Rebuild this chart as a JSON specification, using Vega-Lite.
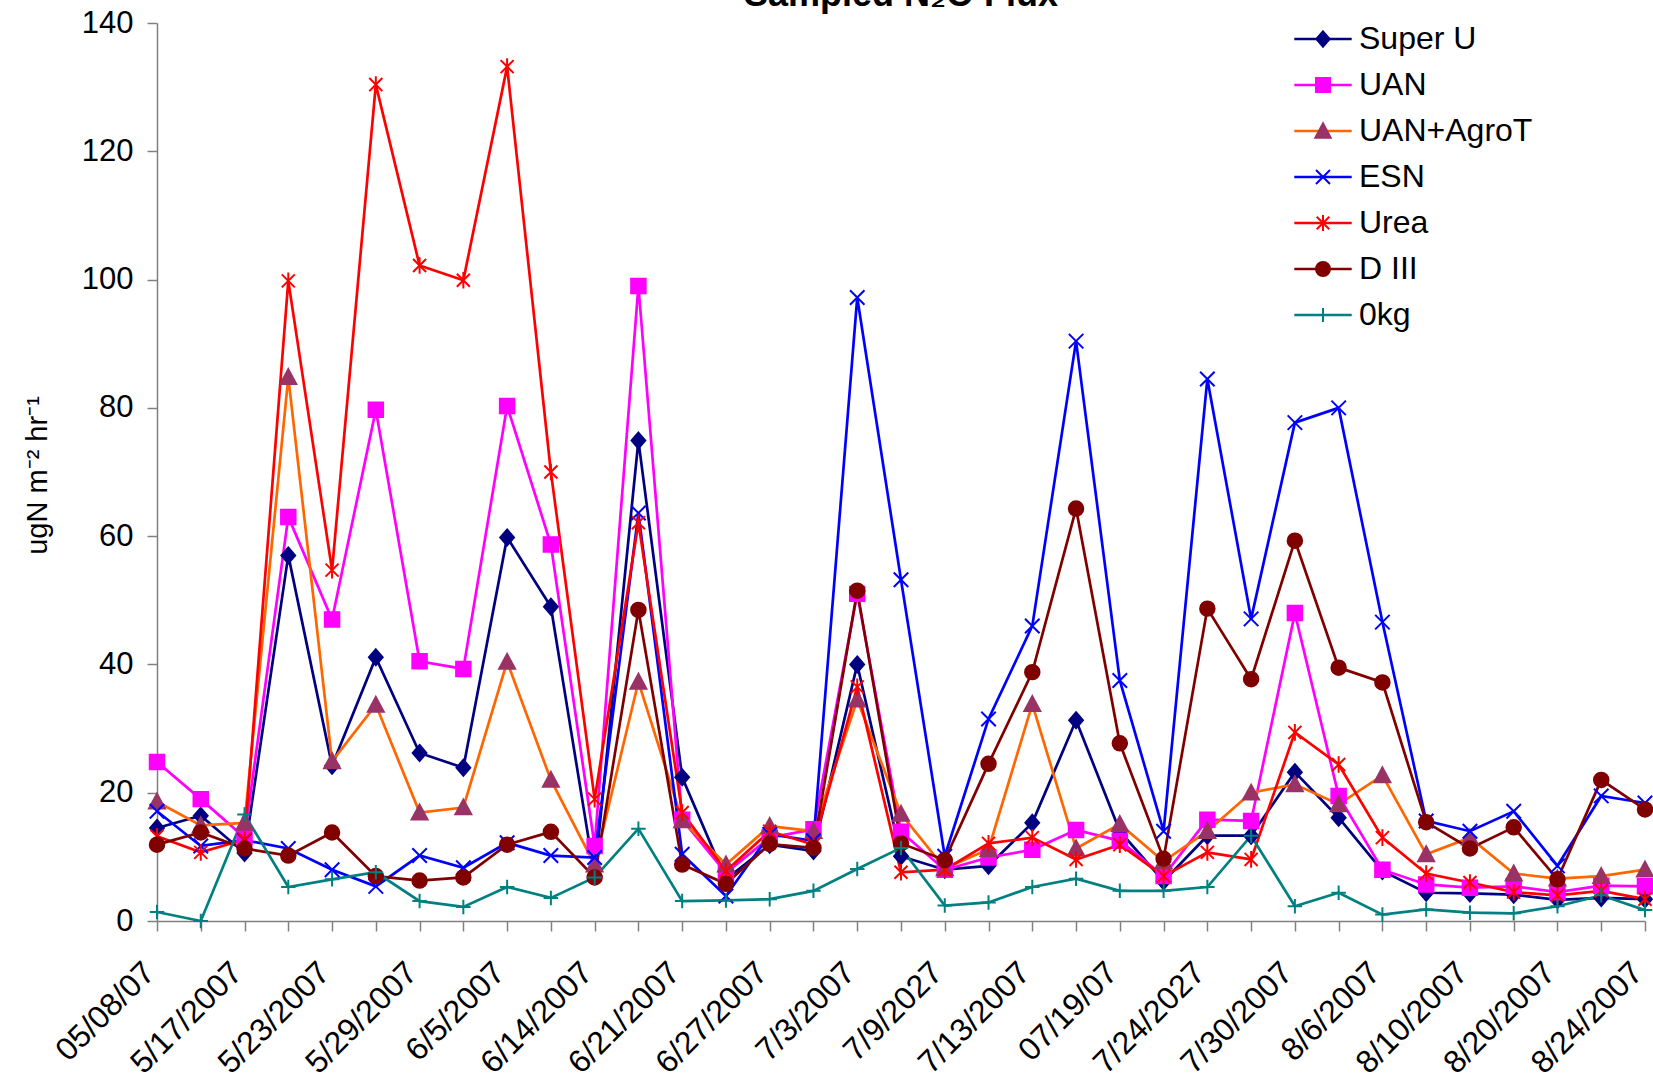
{
  "$schema": "https://vega.github.io/schema/vega-lite/v6.json",
  "width": 1488,
  "height": 898,
  "autosize": {"type": "none"},
  "padding": {"left": 157, "top": 23, "right": 8, "bottom": 160},
  "background": "white",
  "config": {"view": {"stroke": null}, "font": "Liberation Sans"},
  "title": {"text": "Sampled N₂O Flux", "fontSize": 36, "fontWeight": "bold", "font": "Liberation Sans", "color": "black", "anchor": "middle", "frame": "group", "baseline": "alphabetic", "offset": 0, "dy": 35},
  "data": {"values": [
    {"date": "05/08/07", "Super U": 14.5, "UAN": 24.8, "UAN+AgroT": 18.6, "ESN": 17.1, "Urea": 13.2, "D III": 11.9, "0kg": 1.4},
    {"date": "5/14/2007", "Super U": 16.4, "UAN": 19.0, "UAN+AgroT": 14.9, "ESN": 11.7, "Urea": 10.7, "D III": 13.8, "0kg": 0.0},
    {"date": "5/17/2007", "Super U": 10.6, "UAN": 13.0, "UAN+AgroT": 15.3, "ESN": 12.6, "Urea": 12.7, "D III": 11.3, "0kg": 16.6},
    {"date": "5/21/2007", "Super U": 57.0, "UAN": 63.0, "UAN+AgroT": 84.8, "ESN": 11.3, "Urea": 99.8, "D III": 10.2, "0kg": 5.3},
    {"date": "5/23/2007", "Super U": 24.2, "UAN": 47.0, "UAN+AgroT": 24.9, "ESN": 8.0, "Urea": 54.7, "D III": 13.8, "0kg": 6.5},
    {"date": "5/25/2007", "Super U": 41.1, "UAN": 79.7, "UAN+AgroT": 33.7, "ESN": 5.4, "Urea": 130.4, "D III": 7.0, "0kg": 7.6},
    {"date": "5/29/2007", "Super U": 26.2, "UAN": 40.5, "UAN+AgroT": 16.9, "ESN": 10.2, "Urea": 102.2, "D III": 6.3, "0kg": 3.1},
    {"date": "6/1/2007", "Super U": 23.9, "UAN": 39.3, "UAN+AgroT": 17.7, "ESN": 8.3, "Urea": 99.9, "D III": 6.8, "0kg": 2.2},
    {"date": "6/5/2007", "Super U": 59.8, "UAN": 80.3, "UAN+AgroT": 40.4, "ESN": 12.2, "Urea": 133.2, "D III": 11.9, "0kg": 5.3},
    {"date": "6/8/2007", "Super U": 49.0, "UAN": 58.7, "UAN+AgroT": 22.0, "ESN": 10.2, "Urea": 70.0, "D III": 13.9, "0kg": 3.6},
    {"date": "6/14/2007", "Super U": 7.0, "UAN": 11.7, "UAN+AgroT": 8.8, "ESN": 9.9, "Urea": 19.0, "D III": 6.8, "0kg": 6.8},
    {"date": "6/19/2007", "Super U": 74.9, "UAN": 99.0, "UAN+AgroT": 37.3, "ESN": 63.6, "Urea": 62.1, "D III": 48.5, "0kg": 14.4},
    {"date": "6/21/2007", "Super U": 22.4, "UAN": 15.8, "UAN+AgroT": 15.7, "ESN": 10.4, "Urea": 16.9, "D III": 8.8, "0kg": 3.1},
    {"date": "6/25/2007", "Super U": 6.5, "UAN": 7.5, "UAN+AgroT": 8.8, "ESN": 3.9, "Urea": 7.8, "D III": 5.8, "0kg": 3.2},
    {"date": "6/27/2007", "Super U": 11.9, "UAN": 13.0, "UAN+AgroT": 14.8, "ESN": 13.5, "Urea": 14.0, "D III": 12.0, "0kg": 3.4},
    {"date": "6/29/2007", "Super U": 10.9, "UAN": 14.3, "UAN+AgroT": 14.0, "ESN": 12.5, "Urea": 11.9, "D III": 11.4, "0kg": 4.7},
    {"date": "7/3/2007", "Super U": 40.0, "UAN": 51.0, "UAN+AgroT": 34.5, "ESN": 97.2, "Urea": 36.5, "D III": 51.5, "0kg": 8.1},
    {"date": "7/6/2007", "Super U": 10.1, "UAN": 13.9, "UAN+AgroT": 16.7, "ESN": 53.2, "Urea": 7.6, "D III": 12.1, "0kg": 11.4},
    {"date": "7/9/2027", "Super U": 8.0, "UAN": 8.0, "UAN+AgroT": 8.2, "ESN": 10.1, "Urea": 8.0, "D III": 9.5, "0kg": 2.4},
    {"date": "7/11/2007", "Super U": 8.6, "UAN": 9.9, "UAN+AgroT": 11.2, "ESN": 31.5, "Urea": 12.1, "D III": 24.5, "0kg": 2.9},
    {"date": "7/13/2007", "Super U": 15.3, "UAN": 11.1, "UAN+AgroT": 33.8, "ESN": 46.0, "Urea": 13.0, "D III": 38.8, "0kg": 5.3},
    {"date": "7/16/2007", "Super U": 31.3, "UAN": 14.2, "UAN+AgroT": 11.3, "ESN": 90.4, "Urea": 9.6, "D III": 64.3, "0kg": 6.6},
    {"date": "07/19/07", "Super U": 14.0, "UAN": 12.5, "UAN+AgroT": 15.1, "ESN": 37.5, "Urea": 11.9, "D III": 27.7, "0kg": 4.7},
    {"date": "7/20/2007", "Super U": 6.2, "UAN": 7.0, "UAN+AgroT": 9.3, "ESN": 14.0, "Urea": 7.0, "D III": 9.7, "0kg": 4.7},
    {"date": "7/24/2027", "Super U": 13.3, "UAN": 15.8, "UAN+AgroT": 14.0, "ESN": 84.5, "Urea": 10.7, "D III": 48.7, "0kg": 5.3},
    {"date": "7/27/2007", "Super U": 13.3, "UAN": 15.6, "UAN+AgroT": 20.0, "ESN": 47.1, "Urea": 9.6, "D III": 37.7, "0kg": 13.3},
    {"date": "7/30/2007", "Super U": 23.2, "UAN": 48.0, "UAN+AgroT": 21.3, "ESN": 77.7, "Urea": 29.4, "D III": 59.3, "0kg": 2.3},
    {"date": "8/2/2007", "Super U": 16.1, "UAN": 19.5, "UAN+AgroT": 18.2, "ESN": 80.0, "Urea": 24.4, "D III": 39.5, "0kg": 4.4},
    {"date": "8/6/2007", "Super U": 7.8, "UAN": 8.0, "UAN+AgroT": 22.7, "ESN": 46.6, "Urea": 13.0, "D III": 37.2, "0kg": 1.0},
    {"date": "8/8/2007", "Super U": 4.4, "UAN": 5.7, "UAN+AgroT": 10.4, "ESN": 15.6, "Urea": 7.4, "D III": 15.4, "0kg": 1.8},
    {"date": "8/10/2007", "Super U": 4.3, "UAN": 5.2, "UAN+AgroT": 13.0, "ESN": 14.0, "Urea": 6.0, "D III": 11.3, "0kg": 1.3},
    {"date": "8/15/2007", "Super U": 4.1, "UAN": 5.4, "UAN+AgroT": 7.4, "ESN": 17.1, "Urea": 4.5, "D III": 14.6, "0kg": 1.2},
    {"date": "8/20/2007", "Super U": 3.3, "UAN": 4.5, "UAN+AgroT": 6.6, "ESN": 8.6, "Urea": 4.0, "D III": 6.5, "0kg": 2.3},
    {"date": "8/22/2007", "Super U": 3.6, "UAN": 5.5, "UAN+AgroT": 7.0, "ESN": 19.5, "Urea": 4.7, "D III": 22.0, "0kg": 4.0},
    {"date": "8/24/2007", "Super U": 3.4, "UAN": 5.4, "UAN+AgroT": 8.0, "ESN": 18.4, "Urea": 3.4, "D III": 17.4, "0kg": 1.7}
  ]},
  "transform": [{"fold": ["Super U", "UAN", "UAN+AgroT", "ESN", "Urea", "D III", "0kg"], "as": ["series", "flux"]}],
  "encoding": {
    "x": {
      "field": "date", "type": "ordinal",
      "scale": {"type": "point", "padding": 0, "domain": ["05/08/07", "5/14/2007", "5/17/2007", "5/21/2007", "5/23/2007", "5/25/2007", "5/29/2007", "6/1/2007", "6/5/2007", "6/8/2007", "6/14/2007", "6/19/2007", "6/21/2007", "6/25/2007", "6/27/2007", "6/29/2007", "7/3/2007", "7/6/2007", "7/9/2027", "7/11/2007", "7/13/2007", "7/16/2007", "07/19/07", "7/20/2007", "7/24/2027", "7/27/2007", "7/30/2007", "8/2/2007", "8/6/2007", "8/8/2007", "8/10/2007", "8/15/2007", "8/20/2007", "8/22/2007", "8/24/2007"]},
      "axis": {
        "title": null,
        "labelExpr": "indexof(['05/08/07','5/17/2007','5/23/2007','5/29/2007','6/5/2007','6/14/2007','6/21/2007','6/27/2007','7/3/2007','7/9/2027','7/13/2007','07/19/07','7/24/2027','7/30/2007','8/6/2007','8/10/2007','8/20/2007','8/24/2007'], datum.value) >= 0 ? datum.label : ''",
        "labelAngle": -45, "labelAlign": "right", "labelBaseline": "middle",
        "labelFontSize": 32, "labelFont": "Liberation Sans", "labelColor": "black",
        "labelPadding": 36, "labelOffset": -8, "labelOverlap": false, "labelBound": false, "labelFlush": false, "labelLimit": 0,
        "tickSize": 10, "tickColor": "#808080", "tickWidth": 1.5,
        "domainColor": "#808080", "domainWidth": 1.5, "grid": false
      }
    },
    "y": {
      "field": "flux", "type": "quantitative",
      "scale": {"domain": [0, 140], "nice": false, "zero": true},
      "axis": {
        "title": "ugN m⁻² hr⁻¹",
        "values": [0, 20, 40, 60, 80, 100, 120, 140],
        "labelFontSize": 31, "labelFont": "Liberation Sans", "labelColor": "black", "labelPadding": 14,
        "labelOverlap": false, "labelFlush": false,
        "tickSize": 10, "tickColor": "#808080", "tickWidth": 1.5,
        "domainColor": "#808080", "domainWidth": 1.5, "grid": false,
        "titleFontSize": 29, "titleFont": "Liberation Sans", "titleFontWeight": "normal", "titleColor": "black",
        "titleAngle": 270, "titleX": -111, "titleY": 452, "titleAlign": "center", "titleBaseline": "alphabetic"
      }
    }
  },
  "layer": [
    {
      "mark": {"type": "line", "strokeWidth": 2.7},
      "encoding": {
        "color": {
          "field": "series", "type": "nominal", "sort": null,
          "scale": {"range": ["#000080", "#FF00FF", "#FF6600", "#0000FF", "#FF0000", "#800000", "#008080"]},
          "legend": {"orient": "none", "legendX": 1150, "legendY": 0, "title": null, "direction": "vertical",
            "symbolType": "M-4.1,0L4.1,0", "symbolSize": 196, "symbolStrokeWidth": 2.7,
            "labelFontSize": 32, "labelFont": "Liberation Sans", "labelColor": "black", "labelOffset": 20, "labelLimit": 400,
            "rowPadding": 14, "padding": 0}
        },
        "order": {"value": null}
      }
    },
    {
      "mark": {"type": "point", "filled": true, "size": 210, "strokeWidth": 2, "opacity": 1},
      "encoding": {
        "shape": {
          "field": "series", "type": "nominal",
          "scale": {"domain": ["Super U", "UAN", "UAN+AgroT", "ESN", "Urea", "D III", "0kg"],
            "range": ["M0,-1.1L0.95,0L0,1.1L-0.95,0Z", "M-1,-1L1,-1L1,1L-1,1Z", "M0,-1.1L1.1,0.95L-1.1,0.95Z", "M-1,-1L1,1M-1,1L1,-1", "M-0.9,-0.9L0.9,0.9M-0.9,0.9L0.9,-0.9M0,-1.15L0,1.15", "circle", "M-1,0L1,0M0,-1L0,1"]},
          "legend": {"orient": "none", "legendX": 1150, "legendY": 0, "title": null, "direction": "vertical",
            "symbolSize": 196, "symbolStrokeWidth": 2,
            "labelFontSize": 32, "labelFont": "Liberation Sans", "labelOpacity": 0, "labelOffset": 20, "labelLimit": 400,
            "rowPadding": 14, "padding": 0}
        },
        "fill": {
          "field": "series", "type": "nominal",
          "scale": {"domain": ["Super U", "UAN", "UAN+AgroT", "ESN", "Urea", "D III", "0kg"],
            "range": ["#000080", "#FF00FF", "#993366", "#0000FF", "#FF0000", "#800000", "#008080"]},
          "legend": {"orient": "none", "legendX": 1150, "legendY": 0, "title": null, "direction": "vertical",
            "symbolSize": 196, "symbolStrokeWidth": 2,
            "labelFontSize": 32, "labelFont": "Liberation Sans", "labelOpacity": 0, "labelOffset": 20, "labelLimit": 400,
            "rowPadding": 14, "padding": 0}
        },
        "stroke": {
          "field": "series", "type": "nominal",
          "scale": {"domain": ["Super U", "UAN", "UAN+AgroT", "ESN", "Urea", "D III", "0kg"],
            "range": ["#000080", "#FF00FF", "#993366", "#0000FF", "#FF0000", "#800000", "#008080"]},
          "legend": {"orient": "none", "legendX": 1150, "legendY": 0, "title": null, "direction": "vertical",
            "symbolSize": 196, "symbolStrokeWidth": 2,
            "labelFontSize": 32, "labelFont": "Liberation Sans", "labelOpacity": 0, "labelOffset": 20, "labelLimit": 400,
            "rowPadding": 14, "padding": 0}
        }
      }
    }
  ]
}
